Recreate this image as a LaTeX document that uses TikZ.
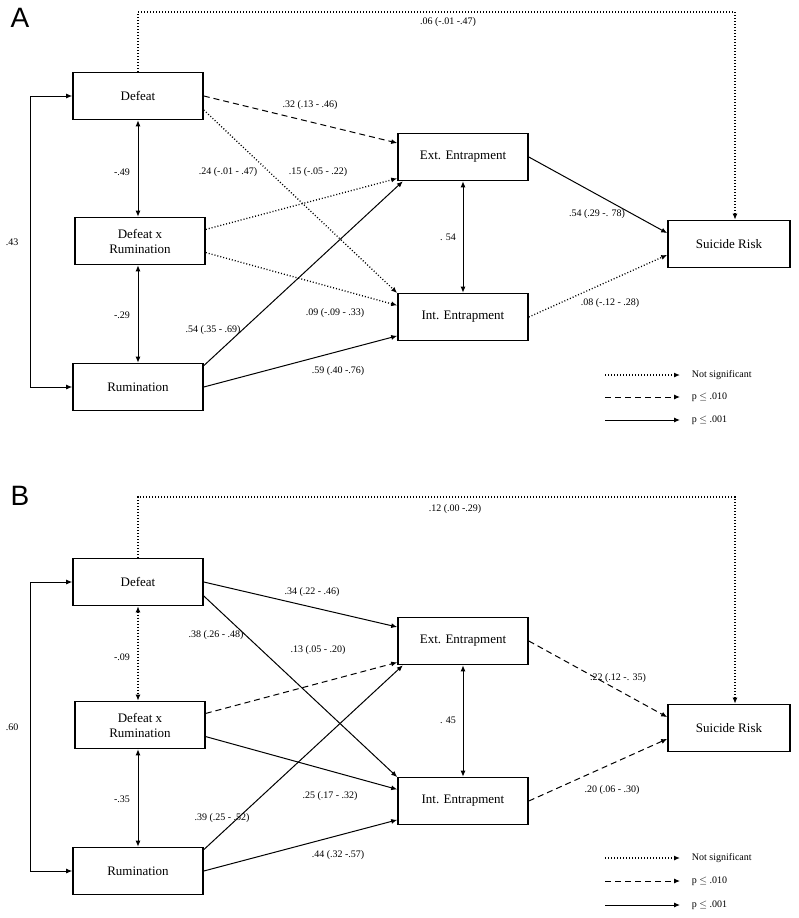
\documentclass[tikz,border=0pt]{standalone}
\usepackage{fontspec}
\setmainfont{Liberation Serif}
\newfontfamily\panelfont{Liberation Sans}
\usetikzlibrary{arrows.meta}
\tikzset{
	var/.style={draw, line width=1.6pt, minimum width=130pt, minimum height=47pt, font=\fontsize{13}{15}\selectfont, align=center},
	path/.style={line width=1pt, -{Latex[length=6pt,width=5pt]}},
	both/.style={line width=1pt, {Latex[length=6pt,width=5pt]}-{Latex[length=6pt,width=5pt]}},
	ns/.style={dotted, line width=1.3pt},
	sig/.style={dashed, dash pattern=on 6pt off 4pt},
	est/.style={font=\fontsize{10}{12}\selectfont},
	tag/.style={font=\panelfont\fontsize{28}{30}\selectfont}
}
\begin{document}
\begin{tikzpicture}[x=1pt, y=-1pt]
	\useasboundingbox (0,0) rectangle (799,918);
	%panel A
	\node[tag] at (20,18) {A};
	\node[var] (def) at (138,96) {Defeat};
	\node[var] (dxr) at (140,241) {Defeat x\\Rumination};
	\node[var] (rum) at (138,387) {Rumination};
	\node[var] (ext) at (463,157) {Ext. Entrapment};
	\node[var] (int) at (463,317) {Int. Entrapment};
	\node[var, minimum width=122pt] (sr) at (729,244) {Suicide Risk};
	\coordinate (ltop) at (30,96);
	\coordinate (lbot) at (30,387);
	\coordinate (ttop) at (138,12);
	\coordinate (tend) at (735,12);
	%paths
	\draw[path, ns] (def.north) -- (ttop) -- (tend) -- (sr.north -| tend);
	\draw[path] (ltop) -- (def.west);
	\draw[path] (lbot) -- (rum.west);
	\draw[line width=1pt] (ltop) -- (lbot);
	\draw[both] (def.south) -- (def.south |- dxr.north);
	\draw[both] (rum.north) -- (rum.north |- dxr.south);
	\draw[path, sig] (def.east) -- (ext.168);
	\draw[path, ns] (def.-12) -- (int.160);
	\draw[path, ns] (dxr.10) -- (ext.198);
	\draw[path, ns] (dxr.-10) -- (int.170);
	\draw[path] (rum.18) -- (ext.202);
	\draw[path] (rum.east) -- (int.196);
	\draw[both] (ext.south) -- (int.north);
	\draw[path] (ext.east) -- (sr.170);
	\draw[path, ns] (int.east) -- (sr.190);
	%labels
	\node[est] at (448,22) {.06 (-.01 -.47)};
	\node[est] at (12,242) {.43};
	\node[est] at (122,172) {-.49};
	\node[est] at (122,315) {-.29};
	\node[est] at (310,105) {.32 (.13 - .46)};
	\node[est] at (228,172) {.24 (-.01 - .47)};
	\node[est] at (318,172) {.15 (-.05 - .22)};
	\node[est] at (335,313) {.09 (-.09 - .33)};
	\node[est] at (213,330) {.54 (.35 - .69)};
	\node[est] at (338,371) {.59 (.40 -.76)};
	\node[est] at (448,237) {. 54};
	\node[est] at (597,214) {.54 (.29 -. 78)};
	\node[est] at (610,303) {.08 (-.12 - .28)};
	%legend
	\coordinate (la) at (605,375); \coordinate (lb) at (680,375);
	\coordinate (lc) at (605,397); \coordinate (ld) at (680,397);
	\coordinate (le) at (605,420); \coordinate (lf) at (680,420);
	\draw[path, ns] (la) -- (lb) node[est, right=8pt] {Not significant};
	\draw[path, sig] (lc) -- (ld) node[est, right=8pt] {p $\leq$ .010};
	\draw[path] (le) -- (lf) node[est, right=8pt] {p $\leq$ .001};
	%panel B
	\begin{scope}[shift={(0,484)}]
	\node[tag] at (20,12) {B};
	\node[var] (def2) at (138,98) {Defeat};
	\node[var] (dxr2) at (140,241) {Defeat x\\Rumination};
	\node[var] (rum2) at (138,387) {Rumination};
	\node[var] (ext2) at (463,157) {Ext. Entrapment};
	\node[var] (int2) at (463,317) {Int. Entrapment};
	\node[var, minimum width=122pt] (sr2) at (729,244) {Suicide Risk};
	\coordinate (ltop2) at (30,98);
	\coordinate (lbot2) at (30,387);
	\coordinate (ttop2) at (138,13);
	\coordinate (tend2) at (735,13);
	%paths
	\draw[path, ns] (def2.north) -- (ttop2) -- (tend2) -- (sr2.north -| tend2);
	\draw[path] (ltop2) -- (def2.west);
	\draw[path] (lbot2) -- (rum2.west);
	\draw[line width=1pt] (ltop2) -- (lbot2);
	\draw[both, ns] (def2.south) -- (def2.south |- dxr2.north);
	\draw[both] (rum2.north) -- (rum2.north |- dxr2.south);
	\draw[path] (def2.east) -- (ext2.168);
	\draw[path] (def2.-12) -- (int2.160);
	\draw[path, sig] (dxr2.10) -- (ext2.198);
	\draw[path] (dxr2.-10) -- (int2.170);
	\draw[path] (rum2.18) -- (ext2.202);
	\draw[path] (rum2.east) -- (int2.196);
	\draw[both] (ext2.south) -- (int2.north);
	\draw[path, sig] (ext2.east) -- (sr2.170);
	\draw[path, sig] (int2.east) -- (sr2.190);
	%labels
	\node[est] at (455,25) {.12 (.00 -.29)};
	\node[est] at (12,243) {.60};
	\node[est] at (122,173) {-.09};
	\node[est] at (122,315) {-.35};
	\node[est] at (312,108) {.34 (.22 - .46)};
	\node[est] at (216,151) {.38 (.26 - .48)};
	\node[est] at (318,166) {.13 (.05 - .20)};
	\node[est] at (330,312) {.25 (.17 - .32)};
	\node[est] at (222,334) {.39 (.25 - .52)};
	\node[est] at (338,371) {.44 (.32 -.57)};
	\node[est] at (448,236) {. 45};
	\node[est] at (618,194) {.22 (.12 -. 35)};
	\node[est] at (612,306) {.20 (.06 - .30)};
	%legend
	\coordinate (la2) at (605,374); \coordinate (lb2) at (680,374);
	\coordinate (lc2) at (605,397); \coordinate (ld2) at (680,397);
	\coordinate (le2) at (605,421); \coordinate (lf2) at (680,421);
	\draw[path, ns] (la2) -- (lb2) node[est, right=8pt] {Not significant};
	\draw[path, sig] (lc2) -- (ld2) node[est, right=8pt] {p $\leq$ .010};
	\draw[path] (le2) -- (lf2) node[est, right=8pt] {p $\leq$ .001};
	\end{scope}
\end{tikzpicture}
\end{document}
